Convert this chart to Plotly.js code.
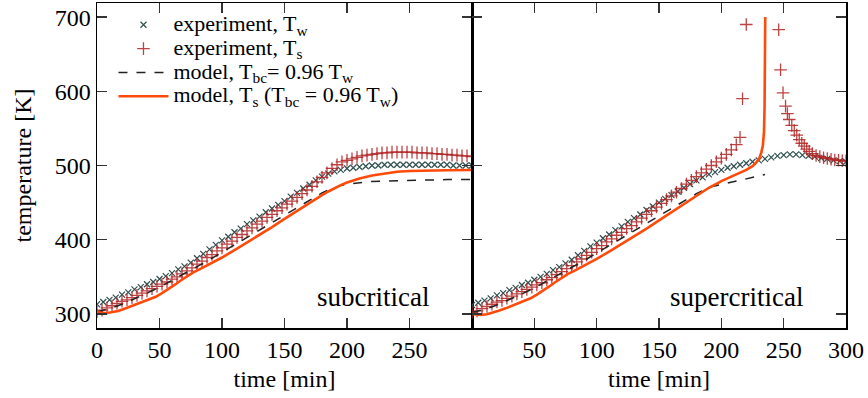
<!DOCTYPE html>
<html>
<head>
<meta charset="utf-8">
<script src="https://cdn.plot.ly/plotly-3.0.1.min.js"></script>
<style>html,body{margin:0;padding:0;background:#fff;}#chart{width:868px;height:398px;}</style>
</head>
<body>
<div id="chart"></div>
<script>
// ---------- subcritical (left panel) ----------
const subTwTime = [0,5,10,15,20,25,30,35,40,45,50,55,60,65,70,75,80,85,90,95,100,105,110,115,120,125,130,135,140,145,150,155,160,165,170,175,180,185,190,195,200,205,210,215,220,225,230,235,240,245,250,255,260,265,270,275,280,285,290,295,300];
const subTw = [313,316,319,322,326,329,333,336,340,343,347,351,355,360,364,369,375,381,387,393,399,404,410,415,421,426,431,437,442,447,452,458,463,469,474,480,485,489,492,494,496,497,498,499,500,500,501,501,501,501,501,501,501,501,501,501,501,500,500,500,500];

const subTsTime = [0,4,8,12,16,20,24,28,32,36,40,44,48,52,56,60,64,68,72,76,80,84,88,92,96,100,104,108,112,116,120,124,128,132,136,140,144,148,152,156,160,164,168,172,176,180,184,188,192,196,200,204,208,212,216,220,224,228,232,236,240,244,248,252,256,260,264,268,272,276,280,284,288,292,296,300];
const subTs = [303,305,308,311,314,317,319,322,325,328,331,334,337,340,343,347,350,354,358,362,367,371,376,380,385,389,394,398,403,407,412,416,421,425,430,434,439,443,448,452,457,462,467,472,478,484,490,496,501,505,507,509,511,513,514,515,516,517,517,518,518,518,518,518,517,517,517,516,516,515,515,514,514,513,513,512];

const subModelTime = [0,10,20,30,40,50,60,70,80,90,100,110,120,130,140,150,160,170,180,185,190,195,200,210,220,240,260,280,300];
const subModelBc = [303,307,313,320,328,336,345,354,364,373,383,393,403,413,423,433,444,454,463,467,470.5,473,475,477,478.5,479.5,480.5,481,481];

const subModelTsTime = [0,3,7,12,17,22,27,32,37,42,47,52,57,62,67,72,77,82,90,100,110,120,130,140,150,160,170,180,185,190,195,200,210,220,230,240,250,260,280,300];
const subModelTs = [303,301.5,301,302,304,307,310,313,316,319,323,328,333,339,345,351,356,360,367,376,386,396,406,417,428,439,450,460,465,469.5,473.5,477,482.5,486.5,489.5,491.5,492.5,493,493.5,494];

// ---------- supercritical (right panel) ----------
const supTwTime = [0,5,10,15,20,25,30,35,40,45,50,55,60,65,70,75,80,85,90,95,100,105,110,115,120,125,130,135,140,145,150,155,160,165,170,175,180,185,190,195,200,205,210,215,220,225,230,235,240,245,250,255,260,265,270,275,280,285,290,295,300];
const supTw = [312,315,318,321,325,328,332,335,339,342,346,350,354,359,363,368,373,379,385,391,396,402,407,413,418,424,429,434,440,445,450,455,460,465,470,475,480,484,488,491,494,497,499,501,503,505,507,509,511,513,514,515,515,514,513,512,510,509,507,506,505];

const supTsTime = [0,4,8,12,16,20,24,28,32,36,40,44,48,52,56,60,64,68,72,76,80,84,88,92,96,100,104,108,112,116,120,124,128,132,136,140,144,148,152,156,160,164,168,172,176,180,184,188,192,196,200,204,208,212,215,217,220,246,247.5,249.5,251.5,253,254.5,256.5,258.5,260.5,262.5,264.5,266.5,268.5,270.5,273,276,279,282,285,288,291,294,297,300];
const supTs = [302,304,307,310,313,316,318,321,324,327,330,333,336,339,342,346,349,353,357,361,365,370,374,379,383,388,392,397,401,406,410,415,419,424,429,434,439,444,449,454,459,464,469,475,480,485,490,495,500,505,510,515,521,528,538,590,690,683,629,598,580,570,562,554,547,541,535,530,526,522,519,516,513.5,512,510.5,509.5,508.5,507.5,507,506.5,506];

const supModelTime = [0,10,20,30,40,50,60,70,80,90,100,110,120,130,140,150,160,170,180,190,200,210,220,230,235];
const supModelBc = [302,306,312,319,327,335,344,353,363,372,382,392,402,412,422,432,443,453,462,470.5,474,478,482,486,488];

const supModelTsTime = [0,3,7,12,17,22,27,32,37,42,47,52,57,62,67,72,77,82,90,100,110,120,130,140,150,160,170,180,185,190,200,210,220,225,228,230.5,232,233.3,234.2,234.7,235,235.2];
const supModelTs = [300,299,298.5,299.5,301.5,304.5,307.5,311,314,317,321,326,331,337,343,349,354,358,365,374,384,394,404,415,426,437,448,459,464,470,479,486,494,499,504,510,517,527,545,580,640,700];

// ---------- labels ----------
const legendNames = [
  'experiment, T<sub>w</sub>',
  'experiment, T<sub>s</sub>',
  'model, T<sub>bc</sub>= 0.96 T<sub>w</sub>',
  'model, T<sub>s</sub> (T<sub>bc</sub> = 0.96 T<sub>w</sub>)'
];
const panelLabels = ['subcritical', 'supercritical'];
const leftTicks = [0,50,100,150,200,250];
const rightTicks = [50,100,150,200,250,300];
const yTicks = [300,400,500,600,700];
const xTitle = 'time [min]';
const yTitle = 'temperature [K]';

const FONT = 'Liberation Serif';
const twStyle = {symbol:'x-thin', size:6, color:'#2f4f4f', line:{width:1.2, color:'#2f4f4f'}};
const tsStyle = {symbol:'cross-thin', size:9, color:'rgba(178,34,34,0.85)', line:{width:1.3, color:'rgba(178,34,34,0.85)'}};
const bcStyle = {color:'#222', width:1.5, dash:'dash'};
const msStyle = {color:'#ff4a0a', width:2.6};

const big = s => '<span style="font-size:22px">' + s + '</span>';

function traces(xa, ya, tw_t, tw, ts_t, ts, bc_t, bc, m_t, m, show) {
  return [
    {x:tw_t, y:tw, xaxis:xa, yaxis:ya, mode:'markers', type:'scatter', marker:twStyle, name:big(legendNames[0]), showlegend:show},
    {x:ts_t, y:ts, xaxis:xa, yaxis:ya, mode:'markers', type:'scatter', marker:tsStyle, name:big(legendNames[1]), showlegend:show},
    {x:bc_t, y:bc, xaxis:xa, yaxis:ya, mode:'lines', type:'scatter', line:bcStyle, name:big(legendNames[2]), showlegend:show},
    {x:m_t, y:m, xaxis:xa, yaxis:ya, mode:'lines', type:'scatter', line:msStyle, name:big(legendNames[3]), showlegend:show}
  ];
}

const data = [
  ...traces('x','y', subTwTime, subTw, subTsTime, subTs, subModelTime, subModelBc, subModelTsTime, subModelTs, true),
  ...traces('x2','y2', supTwTime, supTw, supTsTime, supTs, supModelTime, supModelBc, supModelTsTime, supModelTs, false)
];

const axisCommon = {
  showline:true, linecolor:'#000', linewidth:1.5, mirror:'allticks',
  ticks:'inside', ticklen:10, tickwidth:1.3, tickcolor:'#333',
  showgrid:false, zeroline:false,
  tickfont:{family:FONT, size:24, color:'#000'}
};
const split = 375/749;

const layout = {
  width:868, height:398,
  margin:{l:97, r:22, t:3, b:70},
  paper_bgcolor:'#fff', plot_bgcolor:'#fff',
  font:{family:FONT, color:'#000', size:24},
  showlegend:true,
  legend:{x:0.022, y:0.985, xanchor:'left', yanchor:'top', bgcolor:'rgba(0,0,0,0)',
          font:{family:FONT, size:16, color:'#000'}, itemwidth:50, tracegroupgap:0},
  xaxis:Object.assign({}, axisCommon, {domain:[0, split], range:[0,300], tickvals:leftTicks, anchor:'y',
          title:{text:xTitle, font:{family:FONT, size:24}, standoff:8}}),
  xaxis2:Object.assign({}, axisCommon, {domain:[split, 1], range:[0,300], tickvals:rightTicks, anchor:'y2',
          title:{text:xTitle, font:{family:FONT, size:24}, standoff:8}}),
  yaxis:Object.assign({}, axisCommon, {range:[281,719], tickvals:yTicks, anchor:'x',
          title:{text:yTitle, font:{family:FONT, size:24}, standoff:16}}),
  yaxis2:Object.assign({}, axisCommon, {range:[281,719], tickvals:yTicks, anchor:'x2', matches:'y', showticklabels:false}),
  annotations:[
    {xref:'x', yref:'y', x:221, y:323, text:panelLabels[0], showarrow:false, font:{family:FONT, size:27, color:'#000'}},
    {xref:'x2', yref:'y2', x:212, y:323, text:panelLabels[1], showarrow:false, font:{family:FONT, size:27, color:'#000'}}
  ]
};

Plotly.newPlot('chart', data, layout, {displayModeBar:false, staticPlot:true});
</script>
</body>
</html>
